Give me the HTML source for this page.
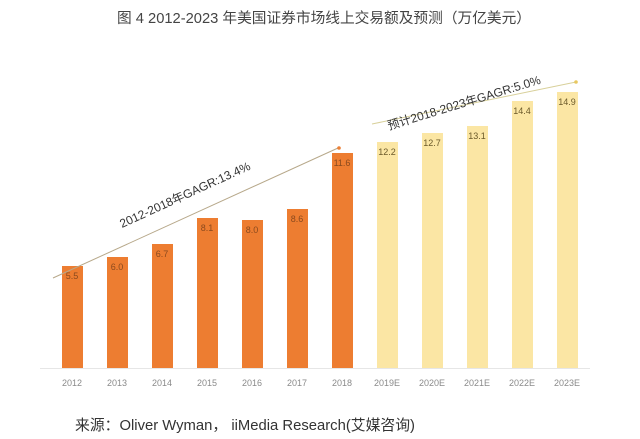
<!DOCTYPE html>
<html><head><meta charset="utf-8"><style>
html,body{margin:0;padding:0;background:#fff;}
svg{display:block;}
text{font-family:"Liberation Sans","Noto Sans CJK SC",sans-serif;}
</style></head><body>
<svg width="640" height="439" viewBox="0 0 640 439" xmlns="http://www.w3.org/2000/svg">
<text x="324" y="23" font-size="14.5" fill="#444" text-anchor="middle" textLength="414" lengthAdjust="spacingAndGlyphs">图 4   2012-2023 年美国证券市场线上交易额及预测（万亿美元）</text>
<line x1="40" y1="368.5" x2="590" y2="368.5" stroke="#e6e6e6" stroke-width="1"/>
<g font-size="9" fill="#8a8a8a" text-anchor="middle">
<text x="72" y="386">2012</text><text x="117" y="386">2013</text><text x="162" y="386">2014</text><text x="207" y="386">2015</text><text x="252" y="386">2016</text><text x="297" y="386">2017</text><text x="342" y="386">2018</text><text x="387" y="386">2019E</text><text x="432" y="386">2020E</text><text x="477" y="386">2021E</text><text x="522" y="386">2022E</text><text x="567" y="386">2023E</text>
</g>
<g fill="#ed7d31">
<rect x="62" y="266" width="21" height="102"/>
<rect x="107" y="257" width="21" height="111"/>
<rect x="152" y="244" width="21" height="124"/>
<rect x="197" y="218" width="21" height="150"/>
<rect x="242" y="220" width="21" height="148"/>
<rect x="287" y="209" width="21" height="159"/>
<rect x="332" y="153" width="21" height="215"/>
</g>
<g fill="#fbe6a4">
<rect x="377" y="142" width="21" height="226"/>
<rect x="422" y="133" width="21" height="235"/>
<rect x="467" y="126" width="21" height="242"/>
<rect x="512" y="101" width="21" height="267"/>
<rect x="557" y="92" width="21" height="276"/>
</g>
<g font-size="9" fill="#8a4a1e" text-anchor="middle">
<text x="72" y="279">5.5</text><text x="117" y="270">6.0</text><text x="162" y="257">6.7</text><text x="207" y="231">8.1</text><text x="252" y="233">8.0</text><text x="297" y="222">8.6</text><text x="342" y="166">11.6</text>
</g>
<g font-size="9" fill="#6b5a2a" text-anchor="middle">
<text x="387" y="155">12.2</text><text x="432" y="146">12.7</text><text x="477" y="139">13.1</text><text x="522" y="114">14.4</text><text x="567" y="105">14.9</text>
</g>
<line x1="53" y1="278" x2="338" y2="148" stroke="#b7a88a" stroke-width="1"/>
<circle cx="339" cy="148" r="1.8" fill="#ec7f35"/>
<line x1="372" y1="124" x2="576" y2="82" stroke="#d8d09a" stroke-width="1"/>
<circle cx="576" cy="82" r="1.8" fill="#e8c860"/>
<text x="0" y="0" font-size="12" fill="#333" transform="translate(122,228) rotate(-24.5)">2012-2018年GAGR:13.4%</text>
<text x="0" y="0" font-size="12" fill="#333" transform="translate(389,130) rotate(-17)">预计2018-2023年GAGR:5.0%</text>
<text x="75" y="430" font-size="15" fill="#333" textLength="340" lengthAdjust="spacingAndGlyphs">来源：Oliver Wyman，  iiMedia Research(艾媒咨询)</text>
</svg>
</body></html>
